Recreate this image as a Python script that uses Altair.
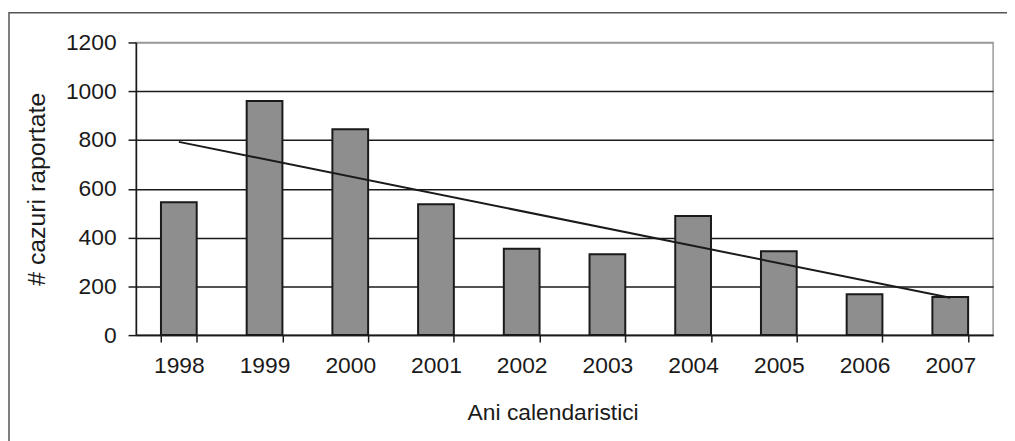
import altair as alt
import pandas as pd

years = [1998, 1999, 2000, 2001, 2002, 2003, 2004, 2005, 2006, 2007]
cases = [545, 960, 844, 537, 354, 332, 488, 344, 168, 156]
y_ticks = [0, 200, 400, 600, 800, 1000, 1200]

df = pd.DataFrame({"year": years, "cases": cases})

FONT = "Liberation Sans"
INK = "#1a1a1a"

x_enc = alt.X(
    "year:O",
    title="Ani calendaristici",
    scale=alt.Scale(paddingInner=0.583, paddingOuter=0.2915),
    axis=alt.Axis(
        labelAngle=0,
        tickBand="extent",
        tickSize=7,
        tickColor=INK,
        tickWidth=1.5,
        domainColor=INK,
        domainWidth=1.5,
        labelPadding=13,
        labelFontSize=23,
        titleFontSize=23,
        titleX=420,
        titleY=78,
        titleBaseline="middle",
        titleAlign="center",
    ),
)

y_enc = alt.Y(
    "cases:Q",
    title="# cazuri raportate",
    scale=alt.Scale(domain=[0, 1200], nice=False),
    axis=alt.Axis(
        values=y_ticks,
        format="d",
        tickSize=8,
        tickColor=INK,
        tickWidth=1.5,
        domainColor=INK,
        domainWidth=1.5,
        labelPadding=12,
        labelFontSize=23,
        titleFontSize=25,
        grid=True,
        gridColor={"condition": {"test": "datum.value === 1200", "value": "#9a9a9a"}, "value": INK},
        gridWidth=1.5,
        titleX=-100,
        titleY=147.5,
        titleAngle=-90,
        titleBaseline="middle",
        titleAlign="center",
    ),
)

bars = alt.Chart(df).mark_bar(
    color="#8e8e8e", stroke=INK, strokeWidth=2
).encode(x=x_enc, y=y_enc)

trend = alt.Chart(df).transform_regression(
    "year", "cases", method="linear"
).mark_line(color=INK, strokeWidth=2).encode(
    x=alt.X("year:O"), y=alt.Y("cases:Q")
)

frame = alt.Chart(alt.Data(values=[{"f": 1}])).mark_rect(
    fill=None, stroke="#555555", strokeWidth=1.5
).encode(
    x=alt.value(-128), x2=alt.value(1000),
    y=alt.value(-30), y2=alt.value(500),
)

chart = alt.layer(frame, bars, trend).properties(
    width=864,
    height=295,
    autosize=alt.AutoSizeParams(type="none"),
    padding={"left": 129, "top": 33, "right": 14, "bottom": 105},
).configure_view(
    stroke="#9a9a9a", strokeWidth=1.5
).configure_axis(
    labelFont=FONT, titleFont=FONT,
    labelColor=INK, titleColor=INK, titleFontWeight="normal",
).configure_axisX(grid=False)

chart.save("out.html", embed_options={"renderer": "svg", "actions": False})
